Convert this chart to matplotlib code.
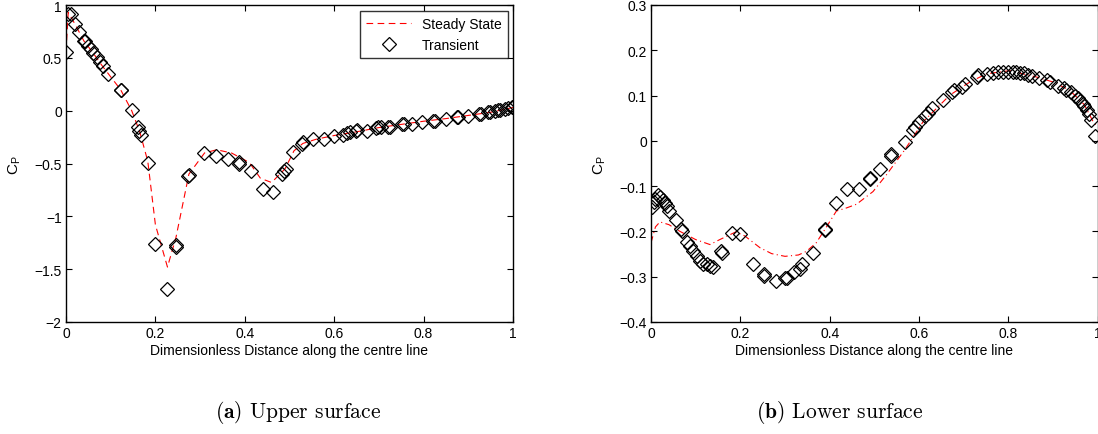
import matplotlib
matplotlib.use("Agg")
import matplotlib.pyplot as plt
from matplotlib.ticker import MultipleLocator

plt.rcParams['font.family'] = ['Liberation Sans', 'DejaVu Sans']
plt.rcParams['mathtext.fontset'] = 'cm'

# ---------------- Upper surface data ----------------
x_up_ss = [0.0, 0.005, 0.02, 0.04, 0.06, 0.08, 0.10, 0.122, 0.147, 0.165, 0.183, 0.20,
           0.227, 0.246, 0.275, 0.31, 0.337, 0.37, 0.41, 0.435, 0.46, 0.49, 0.51, 0.53,
           0.56, 0.6, 0.65, 0.7, 0.75, 0.8, 0.85, 0.9, 0.95, 1.0]
y_up_ss = [0.56, 0.93, 0.82, 0.66, 0.55, 0.43, 0.32, 0.2, 0.0, -0.2, -0.48, -1.08,
           -1.48, -1.2, -0.6, -0.4, -0.37, -0.40, -0.49, -0.64, -0.68, -0.55, -0.38, -0.31,
           -0.27, -0.235, -0.2, -0.16, -0.13, -0.1, -0.075, -0.045, -0.015, 0.03]

x_up_tr = [0.001, 0.005, 0.011, 0.020, 0.030, 0.040, 0.042, 0.050, 0.055, 0.061, 0.069,
           0.075, 0.082, 0.095, 0.122, 0.124, 0.147, 0.162, 0.164, 0.167, 0.183, 0.199,
           0.225, 0.245, 0.247, 0.274, 0.276, 0.309, 0.336, 0.362, 0.386, 0.388, 0.413,
           0.440, 0.462, 0.484, 0.488, 0.492, 0.507, 0.527, 0.531, 0.553, 0.577, 0.600,
           0.619, 0.628, 0.635, 0.649, 0.652, 0.674, 0.694, 0.699, 0.704, 0.721, 0.725,
           0.751, 0.756, 0.773, 0.796, 0.822, 0.826, 0.850, 0.874, 0.878, 0.900, 0.925,
           0.928, 0.945, 0.949, 0.960, 0.967, 0.972, 0.982, 0.989, 0.997, 1.0]
y_up_tr = [0.558, 0.915, 0.915, 0.82, 0.742, 0.662, 0.662, 0.615, 0.584, 0.546, 0.505,
           0.464, 0.426, 0.347, 0.199, 0.195, 0.007, -0.157, -0.189, -0.23, -0.495, -1.26,
           -1.69, -1.27, -1.29, -0.62, -0.61, -0.40, -0.425, -0.46, -0.49, -0.50, -0.57,
           -0.74, -0.77, -0.60, -0.57, -0.55, -0.394, -0.315, -0.293, -0.268, -0.268, -0.236,
           -0.23, -0.215, -0.205, -0.19, -0.185, -0.19, -0.165, -0.157, -0.157, -0.157, -0.15,
           -0.13, -0.126, -0.126, -0.11, -0.094, -0.094, -0.079, -0.063, -0.058, -0.047, -0.031,
           -0.027, -0.015, -0.015, 0.0, 0.005, 0.01, 0.02, 0.028, 0.032, 0.032]

# ---------------- Lower surface data ----------------
x_lo_ss = [0.0, 0.01, 0.02, 0.04, 0.065, 0.1, 0.132, 0.154, 0.19, 0.21, 0.244, 0.27,
           0.30, 0.33, 0.348, 0.37, 0.389, 0.415, 0.438, 0.46, 0.497, 0.527, 0.568,
           0.609, 0.669, 0.714, 0.751, 0.803, 0.863, 0.9, 0.937, 0.97, 0.99, 1.0]
y_lo_ss = [-0.225, -0.19, -0.179, -0.185, -0.2, -0.218, -0.229, -0.218, -0.201, -0.21,
           -0.236, -0.249, -0.255, -0.252, -0.244, -0.225, -0.196, -0.155, -0.148, -0.14,
           -0.112, -0.075, -0.02, 0.042, 0.101, 0.13, 0.148, 0.155, 0.141, 0.13, 0.112,
           0.08, 0.042, 0.03]

x_lo_tr = [0.0015, 0.006, 0.010, 0.016, 0.020, 0.026, 0.031, 0.035, 0.041, 0.056, 0.067,
           0.070, 0.081, 0.087, 0.095, 0.102, 0.110, 0.117, 0.125, 0.132, 0.139, 0.157,
           0.158, 0.181, 0.200, 0.228, 0.252, 0.253, 0.280, 0.300, 0.305, 0.320, 0.333,
           0.339, 0.363, 0.389, 0.390, 0.414, 0.439, 0.466, 0.490, 0.491, 0.512, 0.537,
           0.538, 0.568, 0.586, 0.592, 0.600, 0.613, 0.620, 0.628, 0.654, 0.673, 0.678,
           0.697, 0.704, 0.730, 0.733, 0.753, 0.765, 0.776, 0.787, 0.800, 0.810, 0.818,
           0.826, 0.835, 0.845, 0.853, 0.868, 0.886, 0.893, 0.911, 0.924, 0.930, 0.940,
           0.950, 0.955, 0.960, 0.966, 0.970, 0.975, 0.980, 0.985, 0.993]
y_lo_tr = [-0.145, -0.135, -0.128, -0.12, -0.125, -0.131, -0.137, -0.143, -0.154, -0.174,
           -0.194, -0.2, -0.224, -0.233, -0.244, -0.255, -0.266, -0.273, -0.272, -0.276,
           -0.279, -0.244, -0.248, -0.203, -0.206, -0.271, -0.295, -0.298, -0.31, -0.303,
           -0.302, -0.29, -0.282, -0.273, -0.247, -0.194, -0.197, -0.137, -0.106, -0.106,
           -0.082, -0.085, -0.063, -0.030, -0.033, -0.002, 0.024, 0.03, 0.041, 0.055, 0.062,
           0.072, 0.09, 0.108, 0.112, 0.12, 0.125, 0.142, 0.145, 0.148, 0.15, 0.151, 0.152,
           0.152, 0.151, 0.151, 0.150, 0.149, 0.146, 0.144, 0.139, 0.134, 0.131, 0.121,
           0.117, 0.113, 0.107, 0.1, 0.094, 0.088, 0.081, 0.076, 0.069, 0.06, 0.046, 0.011]

xlabel = 'Dimensionless Distance along the centre line'
ylabel = r'C$_\mathregular{P}$'
captions = [r'$\mathbf{(a)}$ Upper surface', r'$\mathbf{(b)}$ Lower surface']

W, H = 1098, 435
fig = plt.figure(figsize=(W / 100, H / 100), dpi=100)

ax1 = fig.add_axes([66 / W, 1 - 323 / H, 447 / W, 317 / H])
ax2 = fig.add_axes([651 / W, 1 - 323 / H, 446.7 / W, 317 / H])

marker_kw = dict(linestyle='none', marker='D', markersize=7, markerfacecolor='none',
                 markeredgecolor='black', markeredgewidth=0.9)

ax1.plot(x_up_ss, y_up_ss, color='red', linestyle=(0, (6, 4)), linewidth=0.8,
         label='Steady State')
ax1.plot(x_up_tr, y_up_tr, label='Transient', **marker_kw)

ax2.plot(x_lo_ss, y_lo_ss, color='red', linestyle=(0, (6, 3, 1, 3)), linewidth=0.8)
ax2.plot(x_lo_tr, y_lo_tr, **marker_kw)

ax1.yaxis.set_major_locator(MultipleLocator(0.5))
ax2.yaxis.set_major_locator(MultipleLocator(0.1))

def fmt(v):
    s = ('%g' % round(v, 2))
    return s.replace('-', '\u2212')

limits = [((0, 1), (-2, 1)), ((0, 1), (-0.4, 0.3))]
for ax, (xl, yl) in zip((ax1, ax2), limits):
    ax.set_xlim(*xl)
    ax.set_ylim(*yl)
    ax.xaxis.set_major_locator(MultipleLocator(0.2))
    xt = [t for t in ax.get_xticks() if xl[0] - 1e-9 <= t <= xl[1] + 1e-9]
    yt = [t for t in ax.get_yticks() if yl[0] - 1e-9 <= t <= yl[1] + 1e-9]
    ax.set_xticks(xt)
    ax.set_xticklabels([fmt(v) for v in xt])
    ax.set_yticks(yt)
    ax.set_yticklabels([fmt(v) for v in yt])
    ax.set_xlim(*xl)
    ax.set_ylim(*yl)
    ax.tick_params(direction='in', top=True, right=True, length=4, width=0.8,
                   labelsize=10, pad=3)
    for sp in ax.spines.values():
        sp.set_linewidth(1.0)
    ax.set_xlabel(xlabel, fontsize=10, labelpad=2)
    ax.set_ylabel(ylabel, fontsize=11, labelpad=8)

leg = ax1.legend(loc='upper right', fontsize=10, frameon=True, fancybox=False,
                 bbox_to_anchor=(508 / W, 1 - 12 / H), bbox_transform=fig.transFigure,
                 borderaxespad=0.0, handlelength=3.2, borderpad=0.45, labelspacing=0.45)
leg.get_frame().set_edgecolor('black')
leg.get_frame().set_linewidth(1.0)

fig.text(298 / W, 1 - 413 / H, captions[0], ha='center', va='center',
         fontsize=15.5, family='cmr10')
fig.text(840 / W, 1 - 413 / H, captions[1], ha='center', va='center',
         fontsize=15.5, family='cmr10')

fig.savefig('out.png', dpi=100)
